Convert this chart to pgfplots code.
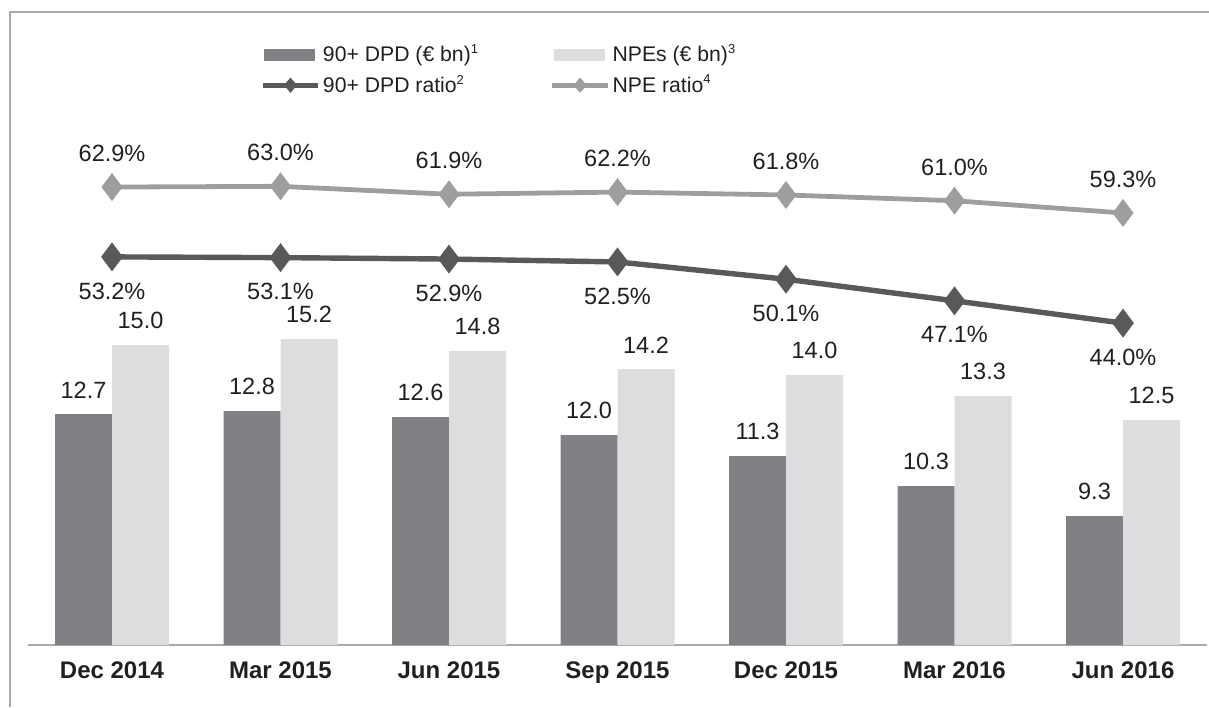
\documentclass[border=0pt]{standalone}
\usepackage{fontspec}
\setmainfont{Liberation Sans}
\usepackage{pgfplots}
\pgfplotsset{compat=1.18}
\pgfplotsset{/pgf/number format/assume math mode=true}
\definecolor{darkbar}{HTML}{808184}
\definecolor{lightbar}{HTML}{DCDDDF}
\definecolor{darkline}{HTML}{58595B}
\definecolor{lightline}{HTML}{9D9EA0}
\definecolor{framegray}{HTML}{A7A9AC}
\definecolor{txt}{HTML}{231F20}
\newcommand{\legsup}[1]{\raisebox{0.75ex}{\fontsize{6.5}{7}\selectfont #1}}
\begin{document}
\begin{tikzpicture}
\useasboundingbox (0,0) rectangle (604.5pt,353.5pt);
\draw[framegray, line width=1.2pt] (4.4pt,347.5pt) -- (604.5pt,347.5pt);
\draw[framegray, line width=1.2pt] (5pt,348.1pt) -- (5pt,0pt);

\begin{axis}[
  at={(13.875pt,31pt)}, anchor=south west,
  scale only axis, width=589.75pt, height=272.5pt,
  xmin=-0.5, xmax=6.5, ymin=5, ymax=23.1667,
  axis x line*=bottom, axis y line=none,
  x axis line style={framegray, line width=1pt, -},
  every outer x axis line/.append style={-},
  xtick={0,1,2,3,4,5,6},
  xticklabels={Dec 2014, Mar 2015, Jun 2015, Sep 2015, Dec 2015, Mar 2016, Jun 2016},
  major tick length=0pt,
  xticklabel style={font=\fontsize{12}{14}\selectfont\bfseries, text=txt, inner sep=0pt, anchor=north, yshift=-8pt},
  ytick=\empty,
  ybar=0pt, bar width=28.5pt,
  clip=false,
  nodes near coords={\pgfmathprintnumber[fixed,fixed zerofill,precision=1]{\pgfplotspointmeta}},
  every node near coord/.append style={font=\fontsize{11.75}{14}\selectfont, text=txt, inner sep=0pt, anchor=south, yshift=7.8pt},
  legend columns=2,
  legend cell align=left,
  legend style={at={(rel axis cs:0.1969,1.1063)}, anchor=north west, draw=none, fill=none, inner sep=0pt,
    font=\fontsize{10.6}{12}\selectfont, text=txt, nodes={inner sep=1pt}, row sep=3pt},
]
\addplot[fill=darkbar, draw=none,
  legend image code/.code={\fill[darkbar] (0pt,-3pt) rectangle (25.5pt,3pt); \path (27pt,0pt);}]
  coordinates {(0,12.7) (1,12.8) (2,12.6) (3,12.0) (4,11.3) (5,10.3) (6,9.3)};
\addlegendentry{\makebox[112.5pt][l]{90+ DPD (€ bn)\legsup{1}}}
\addplot[fill=lightbar, draw=none,
  legend image code/.code={\fill[lightbar] (0pt,-3pt) rectangle (25.5pt,3pt); \path (27pt,0pt);}]
  coordinates {(0,15.0) (1,15.2) (2,14.8) (3,14.2) (4,14.0) (5,13.3) (6,12.5)};
\addlegendentry{NPEs (€ bn)\legsup{3}}
\addlegendimage{legend image code/.code={\draw[darkline, line width=2.5pt] (-0.8pt,0pt)--(27pt,0pt);
  \fill[darkline] (13pt,3.5pt)--(16pt,0pt)--(13pt,-3.5pt)--(10pt,0pt)--cycle;}}
\addlegendentry{90+ DPD ratio\legsup{2}}
\addlegendimage{legend image code/.code={\draw[lightline, line width=2.5pt] (-0.8pt,0pt)--(27pt,0pt);
  \fill[lightline] (13pt,3.5pt)--(16pt,0pt)--(13pt,-3.5pt)--(10pt,0pt)--cycle;}}
\addlegendentry{NPE ratio\legsup{4}}
\end{axis}

\begin{axis}[
  at={(13.875pt,31pt)}, anchor=south west,
  scale only axis, width=589.75pt, height=272.5pt,
  xmin=-0.5, xmax=6.5, ymin=-0.7, ymax=74.99,
  hide axis, clip=false,
  nodes near coords={\pgfmathprintnumber[fixed,fixed zerofill,precision=1]{\pgfplotspointmeta}\%},
  every node near coord/.append style={font=\fontsize{11.75}{14}\selectfont, text=txt, inner sep=0pt},
]
\addplot[lightline, line width=2.4pt, mark=diamond*, mark size=5pt,
  mark options={solid, fill=lightline, draw=none},
  every node near coord/.append style={anchor=south, yshift=11.5pt}]
  coordinates {(0,62.9) (1,63.0) (2,61.9) (3,62.2) (4,61.8) (5,61.0) (6,59.3)};
\addplot[darkline, line width=2.7pt, mark=diamond*, mark size=5pt,
  mark options={solid, fill=darkline, draw=none},
  every node near coord/.append style={anchor=north, yshift=-11.5pt}]
  coordinates {(0,53.2) (1,53.1) (2,52.9) (3,52.5) (4,50.1) (5,47.1) (6,44.0)};
\end{axis}
\end{tikzpicture}
\end{document}
